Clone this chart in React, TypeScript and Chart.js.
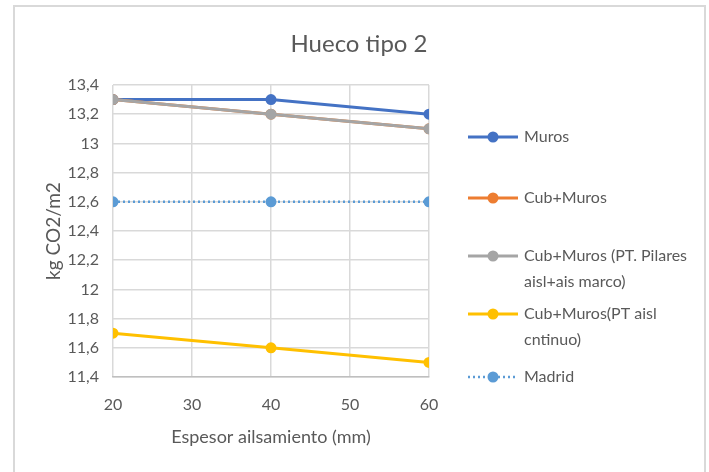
import React, { useEffect, useRef } from "react";
import { Chart, registerables } from "chart.js";

Chart.register(...registerables);

// ---- data ----
const chartTitle = "Hueco tipo 2";
const xAxisTitle = "Espesor ailsamiento (mm)";
const yAxisTitle = "kg CO2/m2";
const xValues = [20, 40, 60];
const seriesNames = [
  "Muros",
  "Cub+Muros",
  "Cub+Muros (PT. Pilares aisl+ais marco)",
  "Cub+Muros(PT aisl cntinuo)",
  "Madrid",
];
const legendLines = [
  ["Muros"],
  ["Cub+Muros"],
  ["Cub+Muros (PT. Pilares", "aisl+ais marco)"],
  ["Cub+Muros(PT aisl", "cntinuo)"],
  ["Madrid"],
];
const muros = [13.3, 13.3, 13.2];
const cubMuros = [13.3, 13.2, 13.1];
const cubMurosPilares = [13.3, 13.2, 13.1];
const cubMurosContinuo = [11.7, 11.6, 11.5];
const madrid = [12.6, 12.6, 12.6];
const seriesValues = [muros, cubMuros, cubMurosPilares, cubMurosContinuo, madrid];
const seriesColors = ["#4472C4", "#ED7D31", "#A5A5A5", "#FFC000", "#5B9BD5"];
const seriesDashed = [false, false, false, false, true];
const xMin = 20;
const xMax = 60;
const xStep = 10;
const yMin = 11.4;
const yMax = 13.4;
const yStep = 0.2;

const FONT = "Lato, 'Open Sans', sans-serif";
const TEXT = "#595959";

const fmt = (v: number) => String(Number(v.toFixed(1))).replace(".", ",");

const decorPlugin = {
  id: "decor",
  beforeDraw(chart: any) {
    const ctx = chart.ctx;
    ctx.save();
    ctx.fillStyle = "#ffffff";
    ctx.fillRect(0, 0, chart.width, chart.height);
    ctx.strokeStyle = "#d9d9d9";
    ctx.lineWidth = 2;
    ctx.strokeRect(14, 6, 691, 520);
    ctx.restore();
  },
  afterDraw(chart: any) {
    const ctx = chart.ctx;
    ctx.save();
    // title
    ctx.fillStyle = TEXT;
    ctx.font = `24px ${FONT}`;
    ctx.textAlign = "center";
    ctx.textBaseline = "middle";
    ctx.fillText(chartTitle, 359, 44);
    // legend
    const firstY = [137, 198, 256, 314, 377];
    const lineH = 26;
    ctx.font = `16px ${FONT}`;
    ctx.textAlign = "left";
    chart.data.datasets.forEach((ds: any, i: number) => {
      const y = firstY[i];
      ctx.strokeStyle = ds.borderColor;
      ctx.lineWidth = ds.borderWidth;
      ctx.setLineDash(ds.borderDash || []);
      ctx.beginPath();
      ctx.moveTo(468, y);
      ctx.lineTo(518, y);
      ctx.stroke();
      ctx.setLineDash([]);
      ctx.fillStyle = ds.pointBackgroundColor;
      ctx.beginPath();
      ctx.arc(493, y, ds.pointRadius, 0, Math.PI * 2);
      ctx.fill();
      ctx.fillStyle = TEXT;
      legendLines[i].forEach((t, k) => ctx.fillText(t, 524, y + k * lineH));
    });
    ctx.restore();
  },
};

export default function App() {
  const ref = useRef<HTMLCanvasElement | null>(null);
  useEffect(() => {
    let chart: Chart | null = null;
    let cancelled = false;
    const make = () => {
      if (cancelled || !ref.current) return;
      chart = new Chart(ref.current, {
        type: "line",
        data: {
          datasets: seriesNames.map((name, i) => ({
            label: name,
            data: xValues.map((x, j) => ({ x, y: seriesValues[i][j] })),
            borderColor: seriesColors[i],
            backgroundColor: seriesColors[i],
            pointBackgroundColor: seriesColors[i],
            pointBorderColor: seriesColors[i],
            borderWidth: seriesDashed[i] ? 2.5 : 3,
            borderDash: seriesDashed[i] ? [2, 3] : [],
            pointRadius: 5.5,
            pointBorderWidth: 0,
            tension: 0,
            fill: false,
            order: seriesNames.length - i,
          })),
        },
        options: {
          responsive: false,
          animation: false,
          layout: { padding: { left: 14, right: 280, top: 85, bottom: 0 } },
          plugins: {
            legend: { display: false },
            title: { display: false },
            tooltip: { enabled: false },
          },
          scales: {
            x: {
              type: "linear",
              min: xMin,
              max: xMax,
              ticks: {
                stepSize: xStep,
                color: TEXT,
                font: { family: FONT, size: 16 },
                padding: 18,
                maxRotation: 0,
              },
              grid: { color: "#d9d9d9", lineWidth: 1.5, drawTicks: false },
              border: { color: "#bfbfbf", width: 1.5 },
              title: {
                display: true,
                text: xAxisTitle,
                color: TEXT,
                font: { family: FONT, size: 18 },
                padding: { top: 0, bottom: 24 },
              },
              afterFit: (s: any) => {
                s.height = 95;
              },
            },
            y: {
              type: "linear",
              min: yMin,
              max: yMax,
              ticks: {
                stepSize: yStep,
                color: TEXT,
                font: { family: FONT, size: 16 },
                padding: 14,
                callback: (v: any) => fmt(Number(v)),
              },
              grid: { color: "#d9d9d9", lineWidth: 1.5, drawTicks: false },
              border: { display: false },
              title: {
                display: true,
                text: yAxisTitle,
                color: TEXT,
                font: { family: FONT, size: 19 },
                padding: { top: 28, bottom: 0 },
              },
              afterFit: (s: any) => {
                s.width = 99;
              },
            },
          },
        },
        plugins: [decorPlugin],
      });
    };
    const fonts: any = (document as any).fonts;
    if (fonts && fonts.load) {
      Promise.all([fonts.load(`16px Lato`), fonts.load(`24px Lato`)]).then(make, make);
    } else make();
    return () => {
      cancelled = true;
      if (chart) chart.destroy();
    };
  }, []);
  return (
    <div style={{ position: "fixed", left: 0, top: 0, width: 709, height: 472 }}>
      <canvas ref={ref} width={709} height={472} style={{ display: "block" }} />
    </div>
  );
}
